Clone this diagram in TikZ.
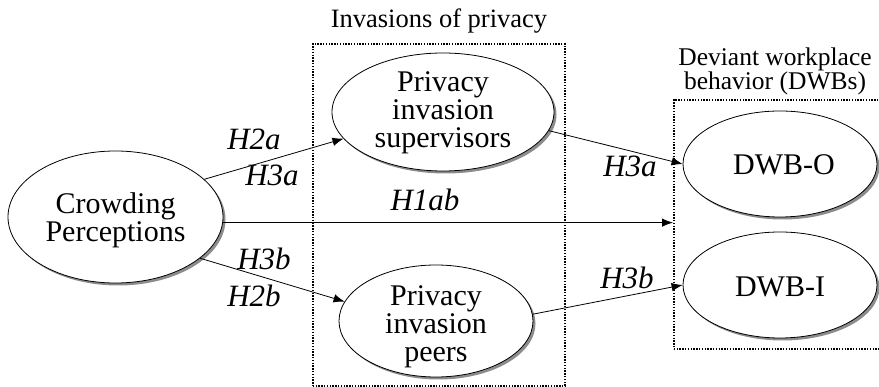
\documentclass[tikz,border=0pt]{standalone}
\usepackage{fontspec}
\setmainfont{Liberation Serif}
\usetikzlibrary{shapes.geometric,arrows.meta,shadows}
\begin{document}
\begin{tikzpicture}[x=1pt,y=-1pt,
  oval/.style={ellipse, draw, line width=0.8pt, fill=white, inner sep=0pt,
    drop shadow={shadow xshift=2.5pt, shadow yshift=-2.5pt, fill=black, opacity=0.45}},
  ovaltext/.style={align=center, font=\fontsize{30}{28}\selectfont, inner sep=0pt},
  hyp/.style={font=\fontsize{31}{31}\selectfont\itshape, inner sep=0pt},
  head/.style={font=\fontsize{25.5}{24}\selectfont, inner sep=0pt, anchor=base},
  group/.style={draw, line width=1.6pt, dash pattern=on 1.4pt off 1.4pt, inner sep=0pt, anchor=north west},
  arr/.style={-{Latex[length=11pt,width=8.5pt]}, line width=0.8pt}]
\useasboundingbox (0,0) rectangle (879,387);
\clip (0,0) rectangle (879,387);

% grouping frames
\node[group, minimum width=252pt, minimum height=342pt] (invbox) at (312,43) {};
\node[group, minimum width=220pt, minimum height=249pt] (dwbbox) at (673,99) {};
\node[head, font=\fontsize{26.5}{24}\selectfont] (invtitle) at (439,28) {Invasions of privacy};
\node[head] (dwbtitle1) at (775,66) {Deviant workplace};
\node[head] (dwbtitle2) at (775,90) {behavior (DWBs)};

% constructs
\node[oval, minimum width=215pt, minimum height=132pt] (crowd) at (115.5,217) {};
\node[ovaltext] (crowdtext) at (115.5,220) {Crowding\\Perceptions};
\node[oval, minimum width=222pt, minimum height=118pt] (sup) at (443,112) {};
\node[ovaltext] (suptext) at (443,113) {Privacy\\invasion\\supervisors};
\node[oval, minimum width=194pt, minimum height=112pt] (peers) at (436,321) {};
\node[ovaltext] (peerstext) at (436,327) {Privacy\\invasion\\peers};
\node[oval, minimum width=194pt, minimum height=106pt] (dwbo) at (780,164) {};
\node[ovaltext] (dwbotext) at (784,165) {DWB-O};
\node[oval, minimum width=194pt, minimum height=106pt] (dwbi) at (780,285) {};
\node[ovaltext] (dwbitext) at (780,287) {DWB-I};

% hypothesised paths
\draw[arr] (crowd.23) -- (sup.195);
\draw[arr] (crowd.-3) -- (crowd.-3 -| dwbbox.west);
\draw[arr] (crowd.-26) -- (peers.168);
\draw[arr] (sup.-10) -- (dwbo.west);
\draw[arr] (peers.4) -- (dwbi.west);

% path labels
\node[hyp] (h2a) at (254,139) {H2a};
\node[hyp] (h3a) at (272,175) {H3a};
\node[hyp] (h1ab) at (425,200) {H1ab};
\node[hyp] (h3b) at (264,259) {H3b};
\node[hyp] (h2b) at (254,296) {H2b};
\node[hyp] (h3ar) at (630,166) {H3a};
\node[hyp] (h3br) at (627,278) {H3b};
\end{tikzpicture}
\end{document}
